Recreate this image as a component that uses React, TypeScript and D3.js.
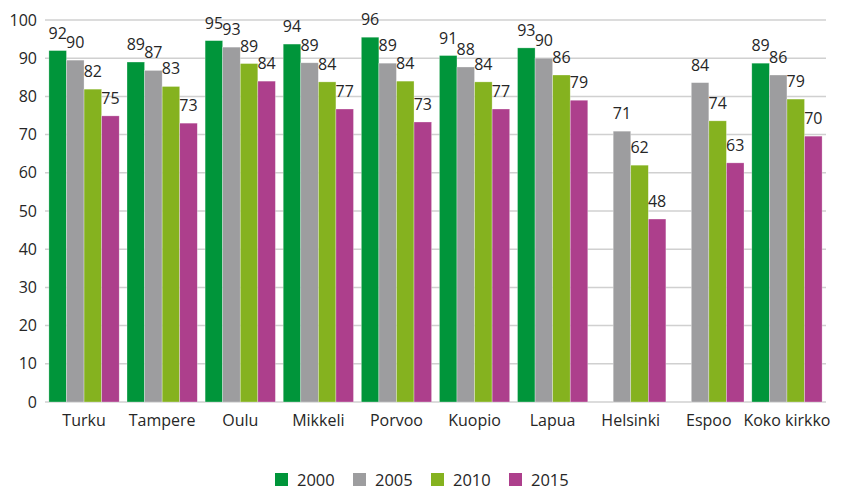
import React from "react";
import * as d3 from "d3";

const categories = ["Turku", "Tampere", "Oulu", "Mikkeli", "Porvoo", "Kuopio", "Lapua", "Helsinki", "Espoo", "Koko kirkko"];
const seriesNames = ["2000", "2005", "2010", "2015"];
const v2000: (number | null)[] = [92.0, 89.0, 94.6, 93.7, 95.5, 90.7, 92.7, null, null, 88.7];
const v2005: (number | null)[] = [89.5, 86.8, 92.9, 88.8, 88.7, 87.7, 90.0, 70.9, 83.6, 85.6];
const v2010: (number | null)[] = [81.9, 82.6, 88.6, 83.8, 84.0, 83.8, 85.6, 62.0, 73.6, 79.3];
const v2015: (number | null)[] = [74.9, 73.0, 84.0, 76.7, 73.3, 76.7, 79.0, 47.9, 62.6, 69.6];
const colors = ["#00953a", "#9d9d9f", "#85b21f", "#ad3f8c"];
const yTicks = [0, 10, 20, 30, 40, 50, 60, 70, 80, 90, 100];

const W = 842;
const H = 487;
const FONT = "'Open Sans', sans-serif";

export default function App() {
  const series = [v2000, v2005, v2010, v2015];
  const x = d3.scaleBand<string>().domain(categories).range([45, 826]).paddingInner(0.1).paddingOuter(0.05);
  const xs = d3.scaleBand<string>().domain(seriesNames).range([0, x.bandwidth()]).padding(0);
  const y = d3.scaleLinear().domain([0, 100]).range([402, 20]);
  const fmt = d3.format(".0f");

  const legendX = d3.scaleBand<string>().domain(seriesNames).range([275, 587]);

  return (
    <svg width={W} height={H} style={{ position: "absolute", left: 0, top: 0, background: "#fff" }}>
      <g>
        {yTicks.map((t) => (
          <g key={t}>
            <line x1={45} x2={826} y1={y(t)} y2={y(t)} stroke="#d0d0d0" strokeWidth={1.5} />
            <text x={37} y={y(t)} dy="0.35em" textAnchor="end" fontFamily={FONT} fontSize={16} fill="#262626">
              {t}
            </text>
          </g>
        ))}
      </g>
      {categories.map((c, ci) => (
        <g key={c} transform={`translate(${x(c)},0)`}>
          {series.map((s, si) => {
            const v = s[ci];
            if (v == null) return null;
            const bx = xs(seriesNames[si])!;
            return (
              <g key={si}>
                <rect x={bx} width={xs.bandwidth()} y={y(v)} height={y(0) - y(v)} fill={colors[si]} stroke="#fff" strokeOpacity={0.5} strokeWidth={0.6} />
                <text x={bx + xs.bandwidth() / 2} y={y(v) - 12} textAnchor="middle" fontFamily={FONT} fontSize={16} fill="#262626">
                  {fmt(v)}
                </text>
              </g>
            );
          })}
          <text x={x.bandwidth() / 2} y={426} textAnchor="middle" fontFamily={FONT} fontSize={16} fill="#262626">
            {c}
          </text>
        </g>
      ))}
      {seriesNames.map((n, i) => (
        <g key={n} transform={`translate(${legendX(n)},0)`}>
          <rect x={0} y={473} width={13} height={13} fill={colors[i]} />
          <text x={22} y={486} fontFamily={FONT} fontSize={16.5} fill="#262626">
            {n}
          </text>
        </g>
      ))}
    </svg>
  );
}
